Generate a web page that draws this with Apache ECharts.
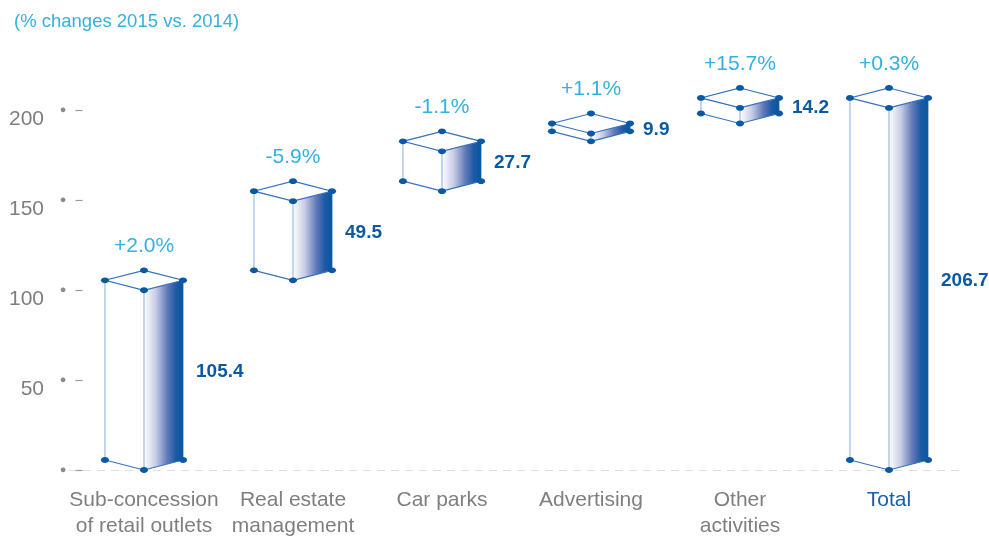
<!DOCTYPE html>
<html>
<head>
<meta charset="utf-8">
<title>Revenue by business line</title>
<script src="https://cdn.jsdelivr.net/npm/echarts@6/dist/echarts.min.js"></script>
<style>
  html, body { margin: 0; padding: 0; background: #ffffff; }
  #chart { width: 989px; height: 538px; }
</style>
</head>
<body>
<div id="chart"></div>
<script>
// Business lines (x axis)
const categories = [
  'Sub-concession\nof retail outlets',
  'Real estate\nmanagement',
  'Car parks',
  'Advertising',
  'Other\nactivities',
  'Total'
];
// Contribution of each line; the last entry is the overall total
const values = [105.4, 49.5, 27.7, 9.9, 14.2, 206.7];
// Year-on-year change shown above each box
const changes = ['+2.0%', '-5.9%', '-1.1%', '+1.1%', '+15.7%', '+0.3%'];
// Value axis
const yMin = 0;
const yMax = 200;
const yStep = 50;

const FONT = '"Liberation Sans", Arial, Helvetica, sans-serif';
const CYAN = '#34b1de';
const NAVY = '#0b58a3';
const EDGE = '#3572bb';
const LIGHT_EDGE = '#a3c0e2';
const GREY = '#7f7f7f';

// Waterfall: each box floats from the running total to the new running total
const boxes = [];
let running = 0;
values.forEach((v, i) => {
  const isTotal = i === values.length - 1;
  const start = isTotal ? 0 : running;
  const end = isTotal ? v : running + v;
  if (!isTotal) running += v;
  boxes.push([i, start, end, v, changes[i]]);
});

function renderBox(params, api) {
  const i = api.value(0);
  const start = api.value(1);
  const end = api.value(2);
  const val = api.value(3);
  const change = boxes[params.dataIndex][4];

  const band = api.size([1, 0])[0];
  const hw = band * 0.262;   // half width of the box
  const dh = band * 0.067;   // half height of the rhombus
  const cx = api.coord([i, 0])[0];
  const yS = api.coord([i, start])[1];
  const yE = api.coord([i, end])[1];

  const tBack = [cx, yE - dh], tLeft = [cx - hw, yE], tRight = [cx + hw, yE], tFront = [cx, yE + dh];
  const bLeft = [cx - hw, yS - dh], bRight = [cx + hw, yS - dh], bFront = [cx, yS];

  const dot = (p) => ({
    type: 'ellipse',
    shape: { cx: p[0], cy: p[1], rx: 4, ry: 2.9 },
    style: { fill: NAVY }
  });

  return {
    type: 'group',
    children: [
      // left face
      { type: 'polygon', shape: { points: [tLeft, tFront, bFront, bLeft] }, style: { fill: '#ffffff' } },
      // right face, shaded
      {
        type: 'polygon',
        shape: { points: [tFront, tRight, bRight, bFront] },
        style: {
          fill: {
            type: 'linear', x: 0, y: 0, x2: 1, y2: 0,
            colorStops: [
              { offset: 0, color: '#ffffff' },
              { offset: 0.3, color: '#c8cde6' },
              { offset: 0.6, color: '#6179b8' },
              { offset: 0.82, color: '#1c59a5' },
              { offset: 1, color: '#0a56a2' }
            ]
          }
        }
      },
      // top face
      { type: 'polygon', shape: { points: [tBack, tRight, tFront, tLeft] }, style: { fill: '#ffffff', stroke: EDGE, lineWidth: 1.2 } },
      // vertical edges
      { type: 'line', shape: { x1: tLeft[0], y1: tLeft[1], x2: bLeft[0], y2: bLeft[1] }, style: { stroke: LIGHT_EDGE, lineWidth: 1.3 } },
      { type: 'line', shape: { x1: tFront[0], y1: tFront[1], x2: bFront[0], y2: bFront[1] }, style: { stroke: LIGHT_EDGE, lineWidth: 1.3 } },
      { type: 'line', shape: { x1: tRight[0] - 1.2, y1: tRight[1], x2: bRight[0] - 1.2, y2: bRight[1] }, style: { stroke: NAVY, lineWidth: 3 } },
      // bottom edges
      { type: 'polyline', shape: { points: [bLeft, bFront, bRight] }, style: { stroke: EDGE, lineWidth: 1.2, fill: null } },
      dot(tBack), dot(tLeft), dot(tRight), dot(tFront),
      dot(bLeft), dot(bFront), dot(bRight),
      // value label
      {
        type: 'text',
        style: {
          text: String(val), x: cx + hw + 13, y: (yE + yS - dh) / 2 + 2,
          fill: NAVY, fontSize: 19, fontWeight: 'bold', fontFamily: FONT,
          align: 'left', verticalAlign: 'middle'
        }
      },
      // change label
      {
        type: 'text',
        style: {
          text: change, x: cx, y: yE - dh - 24,
          fill: CYAN, fontSize: 21, fontFamily: FONT,
          align: 'center', verticalAlign: 'middle'
        }
      }
    ]
  };
}

const chart = echarts.init(document.getElementById('chart'), null, { renderer: 'canvas' });

chart.setOption({
  backgroundColor: '#ffffff',
  animation: false,
  title: {
    text: '(% changes 2015 vs. 2014)',
    left: 9,
    top: 7,
    textStyle: { color: CYAN, fontSize: 18.5, fontWeight: 'normal', fontFamily: FONT }
  },
  grid: { left: 69.5, right: 25.5, top: 110, bottom: 68, outerBoundsMode: 'none' },
  xAxis: {
    type: 'category',
    data: categories.map((c, i) => i === categories.length - 1
      ? { value: c, textStyle: { color: '#1a5ea8' } }
      : c),
    axisTick: { show: false },
    axisLine: { show: true, lineStyle: { color: '#dedede', width: 1, type: [7, 7] } },
    axisLabel: { margin: 17, fontSize: 21, lineHeight: 26, color: GREY, fontFamily: FONT, interval: 0 },
    splitLine: { show: false }
  },
  yAxis: [
    {
      type: 'value', min: yMin, max: yMax, interval: yStep,
      position: 'left', offset: -6,
      axisLine: { show: false },
      axisTick: { show: true, inside: true, length: 7, lineStyle: { color: '#999999', width: 1.2 } },
      splitLine: { show: false },
      axisLabel: {
        margin: 31.5, fontSize: 21, color: GREY, fontFamily: FONT,
        verticalAlign: 'top', lineHeight: 18,
        formatter: (v) => (v === 0 ? '' : String(v))
      }
    },
    {
      type: 'value', min: yMin, max: yMax, interval: yStep,
      position: 'left', offset: -6,
      axisLine: { show: false },
      axisTick: { show: false },
      splitLine: { show: false },
      axisLabel: { margin: 9, fontSize: 11, color: '#8a8a8a', fontFamily: FONT, formatter: () => '●' }
    }
  ],
  series: [
    {
      type: 'custom',
      xAxisIndex: 0,
      yAxisIndex: 0,
      clip: false,
      renderItem: renderBox,
      encode: { x: 0, y: [1, 2] },
      data: boxes.map((b) => b.slice(0, 4))
    }
  ]
});
</script>
</body>
</html>
